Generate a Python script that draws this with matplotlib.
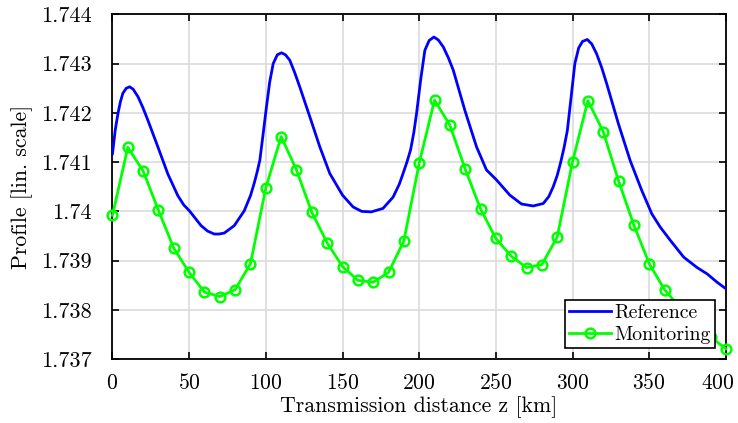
import matplotlib
matplotlib.use("Agg")
import matplotlib.pyplot as plt
from matplotlib.transforms import ScaledTranslation

# reference profile
z_ref = [0, 1.8, 3.6, 5.2, 6.8, 9.0, 11.2, 13.5, 16.6, 19.8, 23.1, 29.6, 36.1,
         42.6, 46.5, 50.2, 57.8, 62.0, 66.4, 69.5, 72.9, 79.4, 85.9, 90.0, 92.5,
         94.5, 96.1, 98.0, 100.4, 102.5, 104.8, 107.5, 110.2, 112.8, 115.6, 118.8,
         122.1, 128.7, 135.2, 141.7, 150, 156.9, 162.5, 168.8, 176.4, 183.0,
         187.0, 189.5, 192.0, 194.4, 196.5, 198.3, 201.0, 203.7, 206.5, 209.6,
         212.5, 215.7, 219.0, 222.2, 229.8, 237.4, 243.9, 250.4, 259.1, 266.7,
         274.3, 280.9, 284.5, 287.4, 290.0, 292.3, 294.5, 296.6, 299.0, 301.5,
         304.0, 306.5, 309.6, 312.5, 315.7, 319.0, 322.3, 329.9, 337.6, 345.2,
         351.7, 357.2, 363.8, 372.5, 381.2, 387.8, 394.3, 400]
ref = [1.74117, 1.74165, 1.74199, 1.74223, 1.74240, 1.74250, 1.74253, 1.74248,
       1.74233, 1.74211, 1.74185, 1.74131, 1.74076, 1.74032, 1.74013, 1.74001,
       1.73971, 1.73960, 1.73954, 1.73954, 1.73956, 1.73971, 1.74001, 1.74032,
       1.74058, 1.74082, 1.74104, 1.74151, 1.74212, 1.74262, 1.74300, 1.74318,
       1.74322, 1.74318, 1.74307, 1.74282, 1.74253, 1.74192, 1.74131, 1.74077,
       1.74033, 1.74009, 1.74000, 1.73999, 1.74006, 1.74029, 1.74055, 1.74077,
       1.74100, 1.74125, 1.74160, 1.74199, 1.74268, 1.74327, 1.74347, 1.74354,
       1.74348, 1.74334, 1.74312, 1.74287, 1.74205, 1.74131, 1.74084, 1.74064,
       1.74033, 1.74015, 1.74011, 1.74016, 1.74030, 1.74050, 1.74073, 1.74100,
       1.74130, 1.74164, 1.74230, 1.74300, 1.74332, 1.74345, 1.74349, 1.74340,
       1.74320, 1.74292, 1.74259, 1.74178, 1.74103, 1.74042, 1.73995, 1.73968,
       1.73941, 1.73907, 1.73886, 1.73873, 1.73856, 1.73843]

# monitoring profile, one marker every 10 km
z_mon = list(range(0, 401, 10))
mon = [1.73992, 1.74130, 1.74082, 1.74002, 1.73925, 1.73876, 1.73836, 1.73827,
       1.73841, 1.73894, 1.74048, 1.74152, 1.74084, 1.73998, 1.73936, 1.73888,
       1.73860, 1.73856, 1.73876, 1.73940, 1.74098, 1.74226, 1.74175, 1.74086,
       1.74005, 1.73945, 1.73909, 1.73886, 1.73892, 1.73948, 1.74101, 1.74225,
       1.74162, 1.74062, 1.73972, 1.73894, 1.73841, 1.73805, 1.73772, 1.73745,
       1.73721]

x_ticks = [0, 50, 100, 150, 200, 250, 300, 350, 400]
y_ticks = [1.737, 1.738, 1.739, 1.74, 1.741, 1.742, 1.743, 1.744]
y_labels = ["1.737", "1.738", "1.739", "1.74", "1.741", "1.742", "1.743", "1.744"]

plt.rcParams["font.family"] = ["cmr10", "DejaVu Serif"]
plt.rcParams["mathtext.fontset"] = "cm"
plt.rcParams["axes.formatter.use_mathtext"] = True

fig = plt.figure(figsize=(7.38, 4.23), dpi=100)
ax = fig.add_axes([0.1524, 0.151, 0.8312, 0.815])

ax.plot(z_ref, ref, color="#0000ff", lw=2.0, label="Reference", zorder=3)
ax.plot(z_mon, mon, color="#00ff00", lw=2.0, marker="o", markersize=7,
        markerfacecolor="none", markeredgewidth=1.8, label="Monitoring",
        zorder=4, clip_on=False)

ax.set_xlim(0, 400)
ax.set_ylim(1.737, 1.744)
ax.set_xticks(x_ticks)
ax.set_yticks(y_ticks)
ax.set_yticklabels(y_labels)
ax.tick_params(direction="in", length=5, width=1.2, top=True, right=True,
               labelsize=16)
ax.tick_params(axis="x", pad=10, labelsize=15.5)
ax.tick_params(axis="y", pad=15)
ax.grid(True, color="#dcdcdc", lw=1.2)
ax.set_axisbelow(True)
for sp in ax.spines.values():
    sp.set_linewidth(1.3)

# keep the last x label inside the figure, as in the original
last = ax.get_xticklabels()[-1]
last.set_transform(last.get_transform() + ScaledTranslation(-6 / 72, 0, fig.dpi_scale_trans))

ax.set_xlabel("Transmission distance z [km]", fontsize=15.7, labelpad=2)
ax.set_ylabel("Profile [lin. scale]", fontsize=15.7, labelpad=6)

leg = ax.legend(loc="lower right", fontsize=14.3, fancybox=False, framealpha=1,
                edgecolor="black", handlelength=2.15, handletextpad=0.17,
                borderpad=0.2, labelspacing=0.22, borderaxespad=0.55)
leg.get_frame().set_linewidth(1.2)

fig.savefig("out.png", dpi=100)
